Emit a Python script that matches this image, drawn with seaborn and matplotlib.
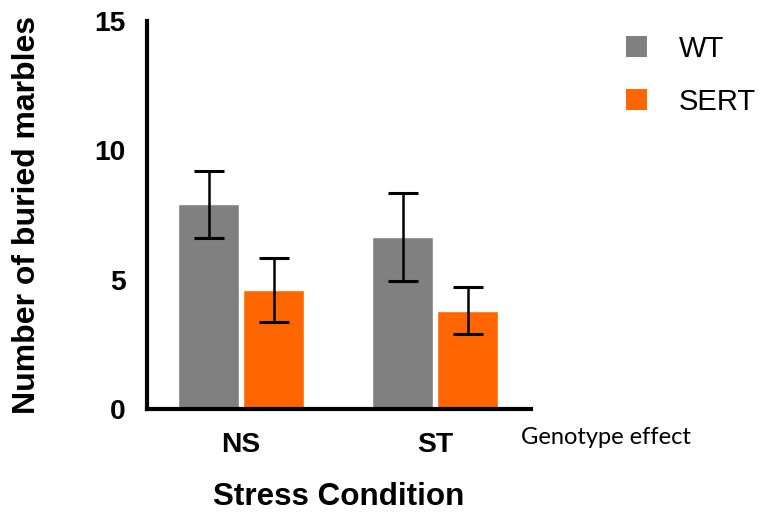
import matplotlib
matplotlib.use("Agg")
import matplotlib.pyplot as plt
from matplotlib.patches import Patch
import seaborn as sns
import pandas as pd

# Marble burying test: mean number of buried marbles (± SEM)
conditions = ["NS", "ST"]
genotypes = ["WT", "SERT"]
wt_mean = [7.9, 6.65]
sert_mean = [4.6, 3.8]
wt_sem = [1.28, 1.71]
sert_sem = [1.24, 0.91]
y_ticks = [0, 5, 10, 15]

palette = {"WT": "#808080", "SERT": "#FF6600"}

df = pd.DataFrame({
    "Stress Condition": conditions * 2,
    "Genotype": ["WT"] * len(conditions) + ["SERT"] * len(conditions),
    "Buried": wt_mean + sert_mean,
})
sems = {"WT": wt_sem, "SERT": sert_sem}

sns.set_style("white")
plt.rcParams["font.family"] = ["Liberation Sans", "DejaVu Sans"]
plt.rcParams.update({
    "text.color": "black",
    "axes.labelcolor": "black",
    "xtick.color": "black",
    "ytick.color": "black",
})

fig = plt.figure(figsize=(7.65, 5.15), dpi=100)
ax = fig.add_axes([0.1918, 0.2058, 0.5019, 0.7542])

sns.barplot(data=df, x="Stress Condition", y="Buried", hue="Genotype",
            hue_order=genotypes, order=conditions, palette=palette,
            width=0.67, gap=0.06, errorbar=None, saturation=1,
            legend=False, ax=ax)

# SEM error bars on top of each bar
for level, container in zip(genotypes, ax.containers):
    xs = [b.get_x() + b.get_width() / 2 for b in container]
    ys = [b.get_height() for b in container]
    ax.errorbar(xs, ys, yerr=sems[level], fmt="none", ecolor="black",
                elinewidth=1.8, capsize=10.8, capthick=2.2, zorder=5)

ax.set_ylim(0, 15)
ax.set_xlim(-0.486, 1.493)
ax.set_yticks(y_ticks)

for side in ("top", "right"):
    ax.spines[side].set_visible(False)
for side in ("left", "bottom"):
    ax.spines[side].set_linewidth(3)
    ax.spines[side].set_color("black")

ax.tick_params(axis="both", which="major", length=11.5, width=3,
               color="black", labelcolor="black", labelsize=20.3,
               direction="out")
ax.tick_params(axis="y", pad=3.5)
ax.tick_params(axis="x", pad=5)
for lab in ax.get_xticklabels() + ax.get_yticklabels():
    lab.set_fontweight("bold")

ax.set_xlabel("Stress Condition", fontsize=22.6, fontweight="bold",
              labelpad=17, color="black")
ax.set_ylabel("Number of buried marbles", fontsize=23, fontweight="bold",
              va="center", ha="center", color="black")
ax.yaxis.set_label_coords(27 / 765, 1 - 215 / 515, transform=fig.transFigure)

handles = [Patch(facecolor=palette[g], edgecolor="none") for g in genotypes]
leg = fig.legend(handles, genotypes, loc="upper left",
                 bbox_to_anchor=(626 / 765, 1 - 35 / 515), frameon=False,
                 fontsize=21, handlelength=0.72, handleheight=0.72,
                 handletextpad=1.1, labelspacing=0.85, borderpad=0,
                 borderaxespad=0)
for t in leg.get_texts():
    t.set_color("black")

fig.text(521 / 765, 1 - 437 / 515, "Genotype effect", fontsize=17,
         family=["Lato", "DejaVu Sans"], va="center", ha="left",
         color="black")

fig.savefig("out.png", dpi=100)
